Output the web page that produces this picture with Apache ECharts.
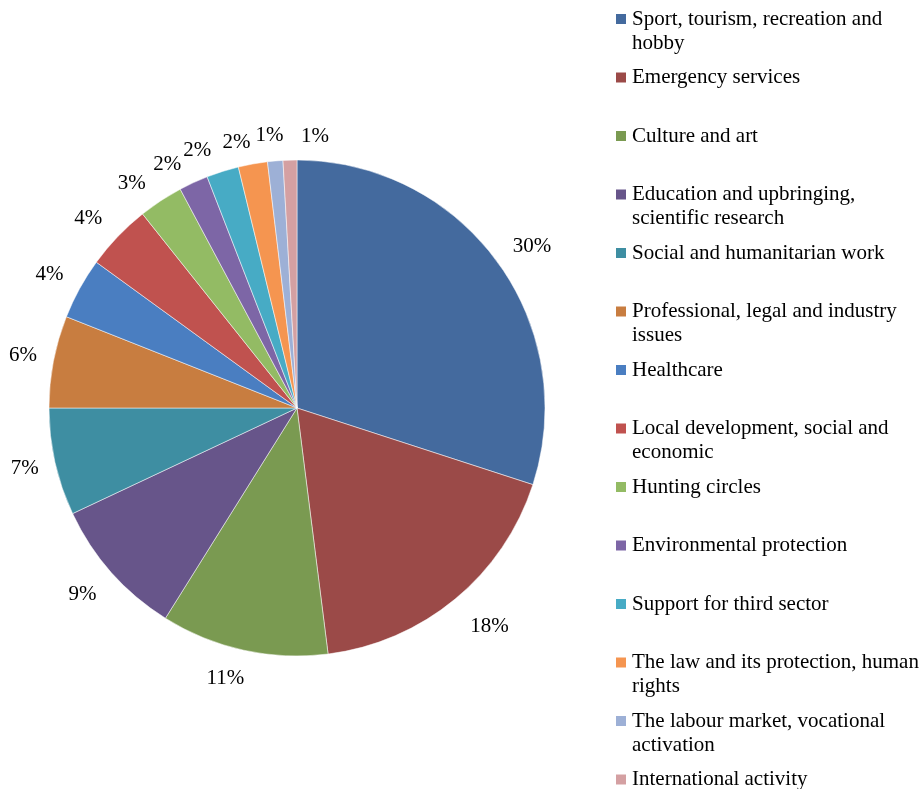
<!DOCTYPE html>
<html>
<head>
<meta charset="utf-8">
<script src="https://cdn.jsdelivr.net/npm/echarts@6/dist/echarts.min.js"></script>
<style>
  html, body { margin: 0; padding: 0; background: #fff; }
  #chart { width: 920px; height: 789px; }
</style>
</head>
<body>
<div id="chart"></div>
<script>
// 各类别名称
const categories = [
  'Sport, tourism, recreation and hobby',
  'Emergency services',
  'Culture and art',
  'Education and upbringing, scientific research',
  'Social and humanitarian work',
  'Professional, legal and industry issues',
  'Healthcare',
  'Local development, social and economic',
  'Hunting circles',
  'Environmental protection',
  'Support for third sector',
  'The law and its protection, human rights',
  'The labour market, vocational activation',
  'International activity'
]
// 图例里的换行文字
const legendLabels = [
  'Sport, tourism, recreation and\nhobby',
  'Emergency services',
  'Culture and art',
  'Education and upbringing,\nscientific research',
  'Social and humanitarian work',
  'Professional, legal and industry\nissues',
  'Healthcare',
  'Local development, social and\neconomic',
  'Hunting circles',
  'Environmental protection',
  'Support for third sector',
  'The law and its protection, human\nrights',
  'The labour market, vocational\nactivation',
  'International activity'
]
// 占比 (%)
const shares = [30.0, 18.0, 10.9, 9.1, 7.0, 6.0, 4.0, 4.3, 2.9, 1.9, 2.1, 1.9, 1.0, 0.9]
const colors = [
  '#446a9e', '#9b4a48', '#7a9a51', '#67558a', '#3e8ea2', '#c87d40',
  '#4a7ec1', '#c0524f', '#93bb64', '#7d66a6', '#47abc5', '#f59550',
  '#9db0d6', '#d4a0a2'
]

const chartInstance = echarts.init(document.getElementById('chart'))

const pieData = categories.map((name, i) => ({ name, value: shares[i] }))
const font = '"Liberation Serif", "Times New Roman", serif'
const cx = 297, cy = 408

// 标签微调：[沿圆周的角度(度，顺时针为正), 径向距离(px)]，模仿 Excel 的标签错开
const labelNudge = {
  0: [1.5, 5], 1: [-1.8, 11], 2: [2.4, 0], 3: [0.6, 4], 4: [0, -1], 5: [0, -1],
  6: [-0.5, 1], 7: [-1.5, 2], 8: [-3, -1], 9: [-3.4, -4], 10: [-3.7, -4],
  11: [-2.6, -8], 12: [-0.7, -6], 13: [5.4, -8]
}

const option = {
  color: colors,
  animation: false,
  legend: {
    orient: 'vertical',
    left: 614,
    top: -17,
    height: 900,
    padding: 0,
    itemWidth: 12,
    itemHeight: 12,
    itemGap: -13.5,
    icon: 'rect',
    // 前面补一行空行，让色块对齐第一行文字
    formatter: (name) => {
      const t = legendLabels[categories.indexOf(name)]
      return ' \n' + (t.indexOf('\n') >= 0 ? t : t + '\n ')
    },
    textStyle: {
      fontFamily: font,
      fontSize: 21,
      color: '#000',
      lineHeight: 24
    },
    data: categories
  },
  series: [
    {
      type: 'pie',
      center: [cx, cy],
      radius: 248,
      startAngle: 90,
      clockwise: true,
      label: { show: false },
      labelLine: { show: false },
      itemStyle: { borderColor: '#fff', borderWidth: 0.5 },
      data: pieData
    },
    {
      // 透明外环，用来放百分比标签
      type: 'pie',
      center: [cx, cy],
      radius: [248, 306],
      startAngle: 90,
      clockwise: true,
      silent: true,
      itemStyle: { color: 'rgba(0,0,0,0)' },
      label: {
        show: true,
        position: 'inside',
        fontFamily: font,
        fontSize: 21,
        color: '#000',
        formatter: (p) => Math.round(p.percent) + '%'
      },
      labelLine: { show: false },
      labelLayout: (p) => {
        const r = p.labelRect
        const x0 = r.x + r.width / 2
        const y0 = r.y + r.height / 2
        const n = labelNudge[p.dataIndex] || [0, 0]
        const ang = Math.atan2(x0 - cx, cy - y0) + n[0] * Math.PI / 180
        const rad = Math.hypot(x0 - cx, y0 - cy) + n[1]
        return {
          dx: cx + rad * Math.sin(ang) - x0,
          dy: cy - rad * Math.cos(ang) - y0,
          hideOverlap: false
        }
      },
      data: pieData
    }
  ]
}
chartInstance.setOption(option)
</script>
</body>
</html>
